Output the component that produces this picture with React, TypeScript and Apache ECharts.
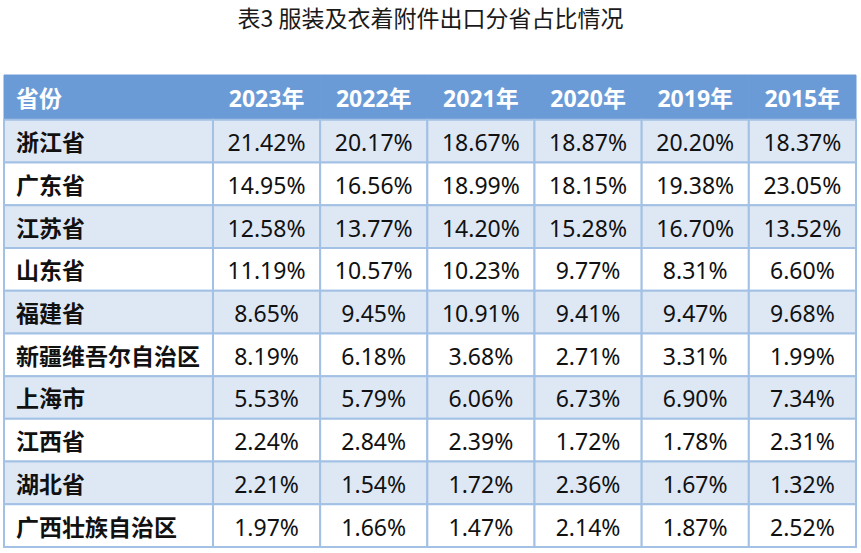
import React, { useEffect, useRef } from "react";
import * as echarts from "echarts";

const titleText = "表3 服装及衣着附件出口分省占比情况";
const headerLabel = "省份";
const years = ["2023年", "2022年", "2021年", "2020年", "2019年", "2015年"];
const provinces = [
  "浙江省",
  "广东省",
  "江苏省",
  "山东省",
  "福建省",
  "新疆维吾尔自治区",
  "上海市",
  "江西省",
  "湖北省",
  "广西壮族自治区",
];
const share2023 = [21.42, 14.95, 12.58, 11.19, 8.65, 8.19, 5.53, 2.24, 2.21, 1.97];
const share2022 = [20.17, 16.56, 13.77, 10.57, 9.45, 6.18, 5.79, 2.84, 1.54, 1.66];
const share2021 = [18.67, 18.99, 14.2, 10.23, 10.91, 3.68, 6.06, 2.39, 1.72, 1.47];
const share2020 = [18.87, 18.15, 15.28, 9.77, 9.41, 2.71, 6.73, 1.72, 2.36, 2.14];
const share2019 = [20.2, 19.38, 16.7, 8.31, 9.47, 3.31, 6.9, 1.78, 1.67, 1.87];
const share2015 = [18.37, 23.05, 13.52, 6.6, 9.68, 1.99, 7.34, 2.31, 1.32, 2.52];
const yearValues = [share2023, share2022, share2021, share2020, share2019, share2015];

// layout (axis units)
const FIRST_COL = 1.95;
const HEADER_H = 1.05;

const HEADER_BG = "#6b9bd7";
const ROW_LIGHT = "#dee8f5";
const ROW_WHITE = "#ffffff";
const BORDER = "#a3c1e5";

type Cell = {
  value: number[];
  text: string;
  kind: "header" | "headerLeft" | "name" | "num";
  row: number;
};

function buildCells(): Cell[] {
  const cells: Cell[] = [];
  const totalCols = years.length + 1;
  const edges = (col: number, row: number) => {
    const x0 = col === 0 ? 0 : FIRST_COL + (col - 1);
    const x1 = col === 0 ? FIRST_COL : FIRST_COL + col;
    const y0 = row === 0 ? 0 : HEADER_H + row - 1;
    const y1 = row === 0 ? HEADER_H : HEADER_H + row;
    return [x0, y0, x1, y1];
  };
  for (let c = 0; c < totalCols; c++) {
    cells.push({
      value: edges(c, 0),
      text: c === 0 ? headerLabel : years[c - 1],
      kind: c === 0 ? "headerLeft" : "header",
      row: 0,
    });
  }
  provinces.forEach((p, i) => {
    const r = i + 1;
    cells.push({ value: edges(0, r), text: p, kind: "name", row: r });
    yearValues.forEach((vals, j) => {
      cells.push({
        value: edges(j + 1, r),
        text: vals[i].toFixed(2) + "%",
        kind: "num",
        row: r,
      });
    });
  });
  return cells;
}

export default function App() {
  const ref = useRef<HTMLDivElement>(null);
  useEffect(() => {
    if (!ref.current) return;
    const chart = echarts.init(ref.current, undefined, { renderer: "svg" });
    const cells = buildCells();
    chart.setOption({
      animation: false,
      backgroundColor: "#ffffff",
      title: {
        text: titleText,
        left: "center",
        top: 0,
        textStyle: {
          fontSize: 23,
          fontWeight: "normal",
          fontFamily: "Noto Sans CJK SC",
          color: "#1a1a1a",
        },
      },
      grid: { left: 4, right: 5, top: 75, bottom: 6 },
      xAxis: { type: "value", min: 0, max: FIRST_COL + years.length, show: false },
      yAxis: {
        type: "value",
        min: 0,
        max: HEADER_H + provinces.length,
        inverse: true,
        show: false,
      },
      series: [
        {
          type: "custom",
          data: cells.map((c) => c.value),
          renderItem: (params: any, api: any) => {
            const cell = cells[params.dataIndex];
            const p0 = api.coord([api.value(0), api.value(1)]);
            const p1 = api.coord([api.value(2), api.value(3)]);
            const x = p0[0];
            const y = p0[1];
            const w = p1[0] - p0[0];
            const h = p1[1] - p0[1];
            const isHeader = cell.kind === "header" || cell.kind === "headerLeft";
            const fill = isHeader
              ? HEADER_BG
              : cell.row % 2 === 1
              ? ROW_LIGHT
              : ROW_WHITE;
            const leftAlign = cell.kind === "headerLeft" || cell.kind === "name";
            return {
              type: "group",
              children: [
                {
                  type: "rect",
                  shape: { x, y, width: w, height: h },
                  style: {
                    fill,
                    stroke: isHeader ? HEADER_BG : BORDER,
                    lineWidth: isHeader ? 1 : 2,
                  },
                  z2: isHeader ? 0 : 1,
                },
                {
                  type: "text",
                  x: leftAlign ? x + 12 : x + w / 2,
                  y: y + h / 2 + 1,
                  z2: 5,
                  style: {
                    text: cell.text,
                    align: leftAlign ? "left" : "center",
                    verticalAlign: "middle",
                    fill: isHeader ? "#ffffff" : "#111111",
                    fontSize: 23,
                    fontWeight:
                      cell.kind === "num" ? "normal" : "bold",
                    fontFamily:
                      cell.kind === "num"
                        ? "Noto Sans, Noto Sans CJK SC"
                        : "Noto Sans, Noto Sans CJK SC",
                  },
                },
              ],
            };
          },
        },
      ],
    });
    return () => chart.dispose();
  }, []);
  return (
    <div
      ref={ref}
      style={{ position: "fixed", left: 0, top: 0, width: 861, height: 553 }}
    />
  );
}
